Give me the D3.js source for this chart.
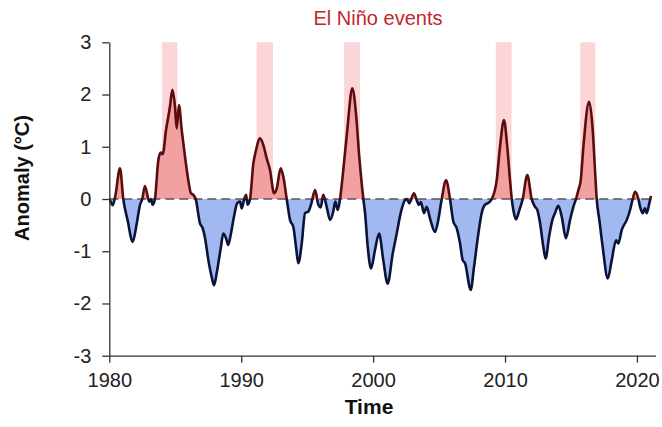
<!DOCTYPE html>
<html>
<head>
<meta charset="utf-8">
<script src="https://cdn.jsdelivr.net/npm/d3@7"></script>
<style>
  body { margin: 0; background: #fff; }
  text { font-family: "Liberation Sans", Arial, sans-serif; }
</style>
</head>
<body>
<script>
// anomaly series (year, °C)
let years = [
  1980.0, 1980.1, 1980.26, 1980.45, 1980.81, 1981.06, 1981.44, 1981.62, 1981.77, 1982.08,
  1982.33, 1982.5, 1982.7, 1983.03, 1983.15, 1983.29, 1983.46, 1983.72, 1983.9, 1984.05,
  1984.3, 1984.6, 1984.78, 1984.98, 1985.11, 1985.28, 1985.49, 1985.74, 1985.99, 1986.19,
  1986.37, 1986.55, 1986.88, 1987.08, 1987.26, 1987.51, 1987.76, 1987.94, 1988.14, 1988.45,
  1988.64, 1988.85, 1989.02, 1989.2, 1989.45, 1989.7, 1989.91, 1990.04, 1990.21, 1990.37,
  1990.49, 1990.67, 1990.92, 1991.1, 1991.43, 1991.68, 1991.93, 1992.18, 1992.49, 1992.69,
  1992.99, 1993.19, 1993.45, 1993.7, 1993.95, 1994.15, 1994.33, 1994.59, 1994.84, 1995.09,
  1995.3, 1995.6, 1995.85, 1996.03, 1996.22, 1996.48, 1996.73, 1996.98, 1997.13, 1997.32,
  1997.49, 1997.74, 1998.04, 1998.42, 1998.7, 1998.95, 1999.26, 1999.39, 1999.59, 1999.84,
  2000.14, 2000.45, 2000.77, 2001.1, 2001.49, 2001.79, 2002.09, 2002.42, 2002.55, 2002.74,
  2003.1, 2003.3, 2003.48, 2003.62, 2003.86, 2004.06, 2004.31, 2004.69, 2004.94, 2005.2,
  2005.53, 2005.83, 2006.08, 2006.34, 2006.59, 2006.79, 2006.97, 2007.4, 2007.65, 2007.98,
  2008.23, 2008.48, 2008.7, 2009.0, 2009.37, 2009.62, 2009.92, 2010.17, 2010.38, 2010.51,
  2010.63, 2010.83, 2011.09, 2011.34, 2011.69, 2012.02, 2012.28, 2012.45, 2012.65, 2012.9,
  2013.08, 2013.34, 2013.59, 2013.79, 2014.04, 2014.3, 2014.62, 2014.93, 2015.18, 2015.38,
  2015.56, 2015.74, 2015.94, 2016.37, 2016.65, 2016.82, 2016.95, 2017.15, 2017.4, 2017.79,
  2018.09, 2018.42, 2018.59, 2018.85, 2019.23, 2019.48, 2019.68, 2019.86, 2020.11, 2020.24,
  2020.44, 2020.61, 2020.74, 2020.94, 2021.07
];
let anomalies = [
  0.0, -0.05, -0.12, 0.05, 0.59, 0.0, -0.47, -0.72, -0.82, -0.47,
  -0.11, 0.0, 0.25, -0.05, 0.0, -0.11, 0.0, 0.75, 0.89, 0.86,
  1.32, 1.77, 2.09, 1.77, 1.35, 1.80, 1.32, 0.81, 0.36, 0.11,
  0.08, 0.0, -0.47, -0.56, -0.75, -1.17, -1.49, -1.65, -1.42, -0.94,
  -0.66, -0.75, -0.88, -0.69, -0.34, -0.08, -0.05, -0.18, -0.02, 0.08,
  -0.11, 0.0, 0.68, 0.91, 1.16, 1.03, 0.78, 0.56, 0.11, 0.2,
  0.59, 0.43, 0.0, -0.40, -0.53, -0.91, -1.23, -0.85, -0.27, -0.24,
  -0.1, 0.17, -0.11, -0.16, 0.08, -0.15, -0.40, -0.24, -0.05, -0.21,
  0.0, 0.56, 1.32, 2.12, 1.64, 0.81, 0.0, -0.27, -0.91, -1.33,
  -0.98, -0.66, -1.17, -1.62, -1.04, -0.66, -0.27, -0.02, 0.0, -0.08,
  0.11, -0.02, -0.11, -0.06, -0.27, -0.15, -0.37, -0.63, -0.40, 0.0,
  0.36, 0.0, -0.43, -0.56, -0.85, -1.17, -1.23, -1.74, -1.30, -0.66,
  -0.27, -0.11, -0.08, 0.0, 0.36, 1.0, 1.51, 1.0, 0.36, 0.0,
  -0.21, -0.39, -0.21, 0.0, 0.46, 0.0, -0.15, -0.21, -0.45, -0.91,
  -1.14, -0.72, -0.40, -0.27, -0.13, -0.34, -0.75, -0.40, -0.15, 0.0,
  0.17, 0.36, 1.0, 1.86, 1.32, 0.56, 0.0, -0.40, -0.91, -1.52,
  -1.17, -0.79, -0.85, -0.59, -0.40, -0.21, 0.0, 0.14, 0.0, -0.15,
  -0.27, -0.18, -0.27, -0.08, 0.06
];

// shaded El Niño periods
let eventStart = [1984.0, 1991.17, 1997.8, 2009.3, 2015.7];
let eventEnd   = [1985.16, 1992.41, 1999.0, 2010.5, 2016.85];

let yearTicks = [1980, 1990, 2000, 2010, 2020];
let anomalyTicks = [-3, -2, -1, 0, 1, 2, 3];

let width = 662, height = 427;
let points = years.map((d, i) => ({year: d, value: anomalies[i]}));

let svg = d3.select('body').append('svg')
    .attr('width', width)
    .attr('height', height);

let x = d3.scaleLinear().domain([1980, 2021.4]).range([109.3, 655.4]);
let y = d3.scaleLinear().domain([-3, 3]).range([355.7, 42.3]);

// clip regions above / below zero
let defs = svg.append('defs');
defs.append('clipPath').attr('id', 'above')
    .append('rect')
    .attr('x', x(1980)).attr('y', 0)
    .attr('width', x(2021.4) - x(1980)).attr('height', y(0));
defs.append('clipPath').attr('id', 'below')
    .append('rect')
    .attr('x', x(1980)).attr('y', y(0))
    .attr('width', x(2021.4) - x(1980)).attr('height', height - y(0));

// event bars
svg.selectAll('rect.event')
    .data(eventStart)
    .enter().append('rect')
    .attr('class', 'event')
    .attr('x', d => x(d))
    .attr('width', (d, i) => x(eventEnd[i]) - x(d))
    .attr('y', y(3))
    .attr('height', y(0) - y(3))
    .attr('fill', '#fcd6d6');

let area = d3.area()
    .x(d => x(d.year))
    .y0(y(0))
    .y1(d => y(d.value))
    .curve(d3.curveMonotoneX);

let line = d3.line()
    .x(d => x(d.year))
    .y(d => y(d.value))
    .curve(d3.curveMonotoneX);

svg.append('path').datum(points)
    .attr('d', area).attr('fill', '#f3a0a0')
    .attr('clip-path', 'url(#above)');
svg.append('path').datum(points)
    .attr('d', area).attr('fill', '#a2b8f1')
    .attr('clip-path', 'url(#below)');

// zero line
svg.append('line')
    .attr('x1', x(1980)).attr('x2', x(2021.1))
    .attr('y1', y(0)).attr('y2', y(0))
    .attr('stroke', '#555').attr('stroke-width', 1.3)
    .attr('stroke-dasharray', '9,5');

svg.append('path').datum(points)
    .attr('d', line).attr('fill', 'none')
    .attr('stroke', '#5a0c0e').attr('stroke-width', 2.6)
    .attr('stroke-linejoin', 'round')
    .attr('clip-path', 'url(#above)');
svg.append('path').datum(points)
    .attr('d', line).attr('fill', 'none')
    .attr('stroke', '#0c1338').attr('stroke-width', 2.6)
    .attr('stroke-linejoin', 'round')
    .attr('clip-path', 'url(#below)');

// axes
let yAxis = svg.append('g')
    .attr('transform', 'translate(' + x(1980) + ',0)')
    .call(d3.axisLeft(y).tickValues(anomalyTicks).tickSize(7)
        .tickSizeOuter(0).tickPadding(11).tickFormat(d => String(d)));

let xAxis = svg.append('g')
    .attr('transform', 'translate(0,' + y(-3) + ')')
    .call(d3.axisBottom(x).tickValues(yearTicks).tickSize(7)
        .tickSizeOuter(0).tickPadding(10).tickFormat(d3.format('d')));

[yAxis, xAxis].forEach(g => {
    g.selectAll('path, line').attr('stroke', '#333').attr('stroke-width', 1.3);
    g.selectAll('text').attr('fill', '#222')
        .style('font-size', '20px')
        .style('font-family', '"Liberation Sans", Arial, sans-serif');
});

// titles
svg.append('text')
    .attr('x', 378).attr('y', 25)
    .attr('text-anchor', 'middle')
    .attr('fill', '#c0282d')
    .style('font-size', '20px')
    .text('El Niño events');

svg.append('text')
    .attr('x', 369).attr('y', 414)
    .attr('text-anchor', 'middle')
    .attr('fill', '#111')
    .style('font-size', '21px').style('font-weight', 'bold')
    .text('Time');

svg.append('text')
    .attr('transform', 'translate(29,178) rotate(-90)')
    .attr('text-anchor', 'middle')
    .attr('fill', '#111')
    .style('font-size', '20px').style('font-weight', 'bold')
    .text('Anomaly (°C)');
</script>
</body>
</html>
